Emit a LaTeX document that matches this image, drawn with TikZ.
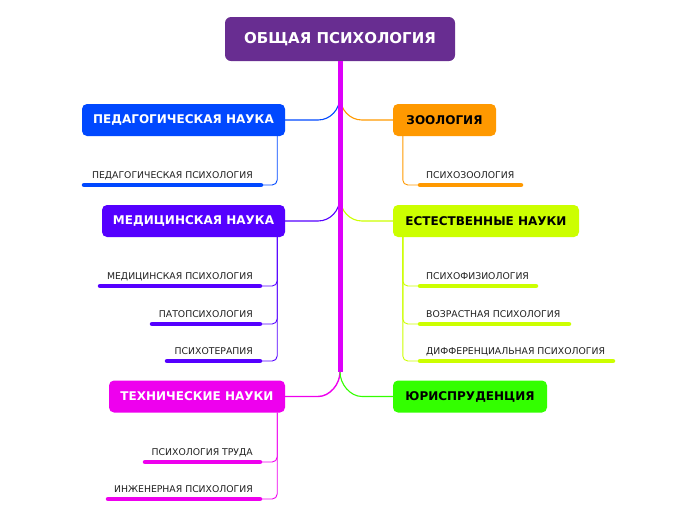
\documentclass[tikz,border=0pt]{standalone}
\usepackage{fontspec}
\setmainfont{DejaVu Sans}
\usetikzlibrary{positioning,calc}

\definecolor{rootc}{RGB}{104,45,145}
\definecolor{trunkc}{RGB}{221,0,250}
\definecolor{pedc}{RGB}{0,72,255}
\definecolor{zooc}{RGB}{255,153,0}
\definecolor{medc}{RGB}{85,0,255}
\definecolor{natc}{RGB}{204,255,0}
\definecolor{tecc}{RGB}{238,0,238}
\definecolor{jurc}{RGB}{51,255,0}
\definecolor{leaftext}{RGB}{30,30,30}

\begin{document}
\begin{tikzpicture}[
  x=1pt, y=-1pt,
  root/.style={rectangle, rounded corners=6pt, fill=rootc, text=white, inner sep=0pt,
    font=\bfseries\fontsize{15}{18}\selectfont, minimum width=230pt, minimum height=44pt},
  branch/.style={rectangle, rounded corners=5pt, inner sep=0pt, minimum height=32pt,
    font=\bfseries\fontsize{12}{14}\selectfont},
  leaf/.style={font=\fontsize{9.3}{11}\selectfont, text=leaftext, inner sep=0pt},
  bar/.style={line width=4.5pt, line cap=round},
  link/.style={line width=1.1pt},
  sub/.style={line width=0.9pt, rounded corners=5pt},
]
\useasboundingbox (0,0) rectangle (696,520);

% === ROOT AND TRUNK ===
\node[root] (root) at (340,39) {ОБЩАЯ ПСИХОЛОГИЯ};
\coordinate (trunkend) at (340,372);

% === BRANCHES ===
\node[branch, fill=pedc, text=white, minimum width=203pt] (pedag) at (183.5,120) {ПЕДАГОГИЧЕСКАЯ НАУКА};
\node[branch, fill=zooc, text=black, minimum width=103pt] (zool) at (444.5,120) {ЗООЛОГИЯ};
\node[branch, fill=medc, text=white, minimum width=183pt] (medic) at (193.5,221) {МЕДИЦИНСКАЯ НАУКА};
\node[branch, fill=natc, text=black, minimum width=186pt] (natur) at (486,221) {ЕСТЕСТВЕННЫЕ НАУКИ};
\node[branch, fill=tecc, text=white, minimum width=176pt] (techn) at (197,396.5) {ТЕХНИЧЕСКИЕ НАУКИ};
\node[branch, fill=jurc, text=black, minimum width=154pt] (juris) at (470,396.5) {ЮРИСПРУДЕНЦИЯ};

% trunk to branches
\draw[link, pedc] (pedag.east) -- ($(root.south |- pedag.east)+(-22,0)$)
  .. controls ($(root.south |- pedag.east)+(-10,0)$) and ($(root.south |- pedag.east)+(0,-10)$)
  .. ($(root.south |- pedag.east)+(0,-24)$);
\draw[link, zooc] (zool.west) -- ($(root.south |- zool.west)+(22,0)$)
  .. controls ($(root.south |- zool.west)+(10,0)$) and ($(root.south |- zool.west)+(0,-10)$)
  .. ($(root.south |- zool.west)+(0,-24)$);
\draw[link, medc] (medic.east) -- ($(root.south |- medic.east)+(-22,0)$)
  .. controls ($(root.south |- medic.east)+(-10,0)$) and ($(root.south |- medic.east)+(0,-10)$)
  .. ($(root.south |- medic.east)+(0,-24)$);
\draw[link, natc] (natur.west) -- ($(root.south |- natur.west)+(22,0)$)
  .. controls ($(root.south |- natur.west)+(10,0)$) and ($(root.south |- natur.west)+(0,-10)$)
  .. ($(root.south |- natur.west)+(0,-24)$);
\draw[link, line width=1.4pt, tecc] (techn.east) -- ($(root.south |- techn.east)+(-22,0)$)
  .. controls ($(root.south |- techn.east)+(-10,0)$) and ($(trunkend)+(0,12)$) .. (trunkend);
\draw[link, jurc] (juris.west) -- ($(root.south |- juris.west)+(22,0)$)
  .. controls ($(root.south |- juris.west)+(10,0)$) and ($(trunkend)+(0,12)$) .. (trunkend);
\draw[trunkc, line width=5pt] (root.south) -- (trunkend);

% === LEAVES: PEDAGOGY ===
\node[leaf, anchor=base east] (pedpsy) at (253,178) {ПЕДАГОГИЧЕСКАЯ ПСИХОЛОГИЯ};
\coordinate (pedpsy-r) at (261,185);
\draw[bar, pedc] (84,185) -- (pedpsy-r);
\draw[sub, pedc] ($(pedag.south east)+(-8,0)$) |- (pedpsy-r);

% === LEAVES: ZOOLOGY ===
\node[leaf, anchor=base west] (zoopsy) at (426,178) {ПСИХОЗООЛОГИЯ};
\coordinate (zoopsy-l) at (420,185);
\draw[bar, zooc] (zoopsy-l) -- (521,185);
\draw[sub, zooc] ($(zool.south west)+(10,0)$) |- (zoopsy-l);

% === LEAVES: MEDICINE ===
\node[leaf, anchor=base east] (medpsy) at (253,279) {МЕДИЦИНСКАЯ ПСИХОЛОГИЯ};
\node[leaf, anchor=base east] (patho) at (253,317) {ПАТОПСИХОЛОГИЯ};
\node[leaf, anchor=base east] (thera) at (253,354) {ПСИХОТЕРАПИЯ};
\coordinate (medpsy-r) at (260,286);
\coordinate (patho-r) at (260,324);
\coordinate (thera-r) at (260,361);
\draw[bar, medc] (100,286) -- (medpsy-r);
\draw[bar, medc] (152,324) -- (patho-r);
\draw[bar, medc] (167,361) -- (thera-r);
\draw[sub, medc] ($(medic.south east)+(-8,0)$) |- (medpsy-r);
\draw[sub, medc] ($(medic.south east)+(-8,0)$) |- (patho-r);
\draw[sub, medc] ($(medic.south east)+(-8,0)$) |- (thera-r);

% === LEAVES: NATURAL SCIENCES ===
\node[leaf, anchor=base west] (physio) at (426,279) {ПСИХОФИЗИОЛОГИЯ};
\node[leaf, anchor=base west] (agepsy) at (426,317) {ВОЗРАСТНАЯ ПСИХОЛОГИЯ};
\node[leaf, anchor=base west] (diffpsy) at (426,354) {ДИФФЕРЕНЦИАЛЬНАЯ ПСИХОЛОГИЯ};
\coordinate (physio-l) at (420,286);
\coordinate (agepsy-l) at (420,324);
\coordinate (diffpsy-l) at (420,361);
\draw[bar, natc] (physio-l) -- (536,286);
\draw[bar, natc] (agepsy-l) -- (569,324);
\draw[bar, natc] (diffpsy-l) -- (613,361);
\draw[sub, natc] ($(natur.south west)+(10,0)$) |- (physio-l);
\draw[sub, natc] ($(natur.south west)+(10,0)$) |- (agepsy-l);
\draw[sub, natc] ($(natur.south west)+(10,0)$) |- (diffpsy-l);

% === LEAVES: TECHNICAL SCIENCES ===
\node[leaf, anchor=base east] (labour) at (253,455) {ПСИХОЛОГИЯ ТРУДА};
\node[leaf, anchor=base east] (engpsy) at (253,492) {ИНЖЕНЕРНАЯ ПСИХОЛОГИЯ};
\coordinate (labour-r) at (260,462);
\coordinate (engpsy-r) at (260,499);
\draw[bar, tecc] (145,462) -- (labour-r);
\draw[bar, tecc] (108,499) -- (engpsy-r);
\draw[sub, tecc] ($(techn.south east)+(-8,0)$) |- (labour-r);
\draw[sub, tecc] ($(techn.south east)+(-8,0)$) |- (engpsy-r);
\end{tikzpicture}
\end{document}
